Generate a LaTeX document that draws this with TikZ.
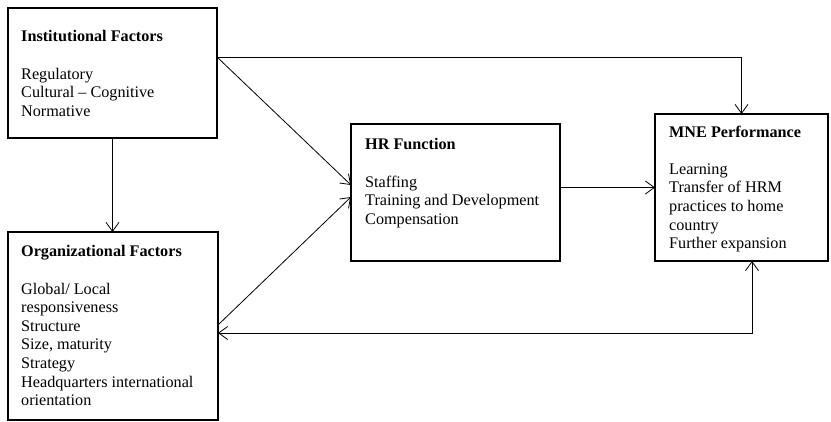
\documentclass[tikz,border=0pt]{standalone}
\usepackage{fontspec}
\setmainfont{Liberation Serif}
\usetikzlibrary{arrows.meta}
\begin{document}
\begin{tikzpicture}[x=1pt,y=-1pt,
  box/.style={draw, line width=1.6pt, inner sep=0pt, outer sep=0pt},
  txt/.style={anchor=north west, inner sep=0pt, align=left,
    font=\fontsize{16.2}{18.6}\selectfont},
  arr/.style={line width=0.8pt, -{Straight Barb[length=9pt,width=13pt,line width=0.8pt]}},
  darr/.style={line width=0.8pt, {Straight Barb[length=9pt,width=13pt,line width=0.8pt]}-{Straight Barb[length=9pt,width=13pt,line width=0.8pt]}}]
\useasboundingbox (0,0) rectangle (831,421);
\node[box, minimum width=209pt, minimum height=130pt] (inst) at (112.5,73) {};
\node[box, minimum width=210pt, minimum height=188pt] (org) at (113,326) {};
\node[box, minimum width=209pt, minimum height=137pt] (hr) at (455.5,192.5) {};
\node[box, minimum width=173pt, minimum height=147pt] (mne) at (741.5,187.5) {};
\node[txt] (instt) at (21,30.5) {\textbf{Institutional Factors}\\[18.5pt]Regulatory\\Cultural -- Cognitive\\Normative};
\node[txt] (orgt) at (21,245.5) {\textbf{Organizational Factors}\\[18.5pt]Global/ Local\\responsiveness\\Structure\\Size, maturity\\Strategy\\Headquarters international\\orientation};
\node[txt] (hrt) at (365,138.5) {\textbf{HR Function}\\[18.5pt]Staffing\\Training and Development\\Compensation};
\node[txt] (mnet) at (669,125.5) {\textbf{MNE Performance}\\[18.5pt]Learning\\Transfer of HRM\\practices to home\\country\\Further expansion};
\draw[arr] ([yshift=16pt]inst.east) -| (mne.north);
\draw[arr] ([yshift=16pt]inst.east) -- ([yshift=7.5pt]hr.west);
\draw[arr] ([yshift=1pt]org.east) -- ([yshift=-4.5pt]hr.west);
\draw[arr] (hr.east |- mne.west) -- (mne.west);
\draw[arr] (inst.south) -- (inst.south |- org.north);
\draw[darr] ([yshift=-7pt]org.east) -| ([xshift=10.5pt]mne.south);
\end{tikzpicture}
\end{document}
